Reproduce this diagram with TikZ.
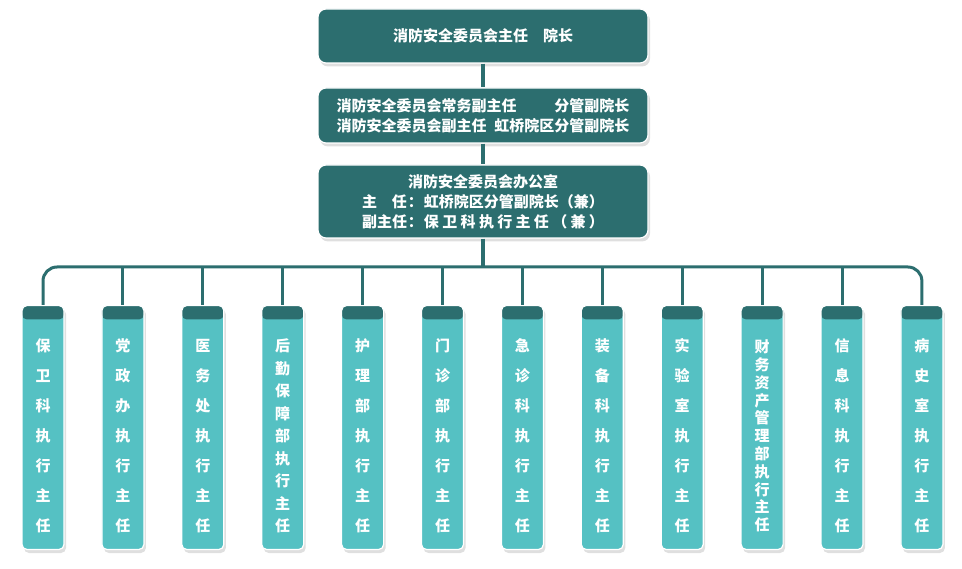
\documentclass[tikz,border=0pt]{standalone}
\usepackage{fontspec}
\newfontfamily\cjk{Noto Sans CJK SC}
\usetikzlibrary{shadows}

\definecolor{darkteal}{HTML}{2C6E6F}
\definecolor{lightteal}{HTML}{55C1C3}

\tikzset{
	topbox/.style={rectangle, rounded corners=8pt, fill=darkteal, draw=white,
		line width=1.2pt, minimum width=330pt, text=white, align=center,
		font=\cjk\bfseries\fontsize{15}{20}\selectfont,
		drop shadow={shadow xshift=2pt, shadow yshift=-3.5pt, opacity=0.25}},
	unitbox/.style={rectangle, rounded corners=5pt, fill=lightteal, draw=white,
		line width=1.2pt, minimum width=42pt, minimum height=244pt, inner sep=0pt,
		drop shadow={shadow xshift=2pt, shadow yshift=-3.5pt, opacity=0.25},
		path picture={\fill[darkteal] (path picture bounding box.north west)
			rectangle ([yshift=-14pt]path picture bounding box.north east);}},
	unittext/.style={text=white, align=center, inner sep=0pt},
	conn/.style={draw=darkteal, line width=3pt}
}

\begin{document}
\begin{tikzpicture}[x=1pt, y=-1pt]

	% ---- frame

	\useasboundingbox (0,0) rectangle (962,569);

	% ---- committee boxes

	\node[topbox, minimum height=54pt] (head) at (483,36)
		{消防安全委员会主任\hspace{15pt}院长};

	\node[topbox, minimum height=55pt] (vice) at (483,115.5)
		{\hbox to 293pt{消防安全委员会常务副主任\hfill 分管副院长}\\
		 \hbox to 293pt{消防安全委员会副主任\hfill 虹桥院区分管副院长}};

	\node[topbox, minimum height=73pt] (office) at (483,201.5)
		{消防安全委员会办公室\\
		 \makebox[45pt][s]{主\hfill 任}\makebox[17pt]{：}虹桥院区分管副院长（兼）\\
		 副主任\makebox[17pt]{：}\makebox[180pt][s]{保\hfill 卫\hfill 科\hfill 执\hfill 行\hfill 主\hfill 任\hfill （\hfill 兼\hfill ）}};

	% ---- unit columns

	\foreach \i/\txt/\lsp in {
		1/{保\\卫\\科\\执\\行\\主\\任}/30,
		2/{党\\政\\办\\执\\行\\主\\任}/30,
		3/{医\\务\\处\\执\\行\\主\\任}/30,
		4/{后\\勤\\保\\障\\部\\执\\行\\主\\任}/22.5,
		5/{护\\理\\部\\执\\行\\主\\任}/30,
		6/{门\\诊\\部\\执\\行\\主\\任}/30,
		7/{急\\诊\\科\\执\\行\\主\\任}/30,
		8/{装\\备\\科\\执\\行\\主\\任}/30,
		9/{实\\验\\室\\执\\行\\主\\任}/30,
		10/{财\\务\\资\\产\\管\\理\\部\\执\\行\\主\\任}/17.8,
		11/{信\\息\\科\\执\\行\\主\\任}/30,
		12/{病\\史\\室\\执\\行\\主\\任}/30} {
		\node[unitbox] (c\i) at ({43+79.9*(\i-1)},427.5) {};
		\node[unittext, font=\cjk\bfseries\fontsize{15}{\lsp}\selectfont]
			(t\i) at ({43+79.9*(\i-1)},436) {\txt};
	}

	% ---- connectors

	\coordinate (bus) at (483,267);

	\draw[conn, line width=3.5pt] (head.south) -- (vice.north);
	\draw[conn, line width=3.5pt] (vice.south) -- (office.north);
	\draw[conn, line width=3.5pt] (office.south) -- (bus);
	\draw[conn, rounded corners=14pt] (c1.north) |- (bus) -| (c12.north);
	\foreach \i in {2,...,11} { \draw[conn] (c\i.north) -- (c\i.north |- bus); }

\end{tikzpicture}
\end{document}
